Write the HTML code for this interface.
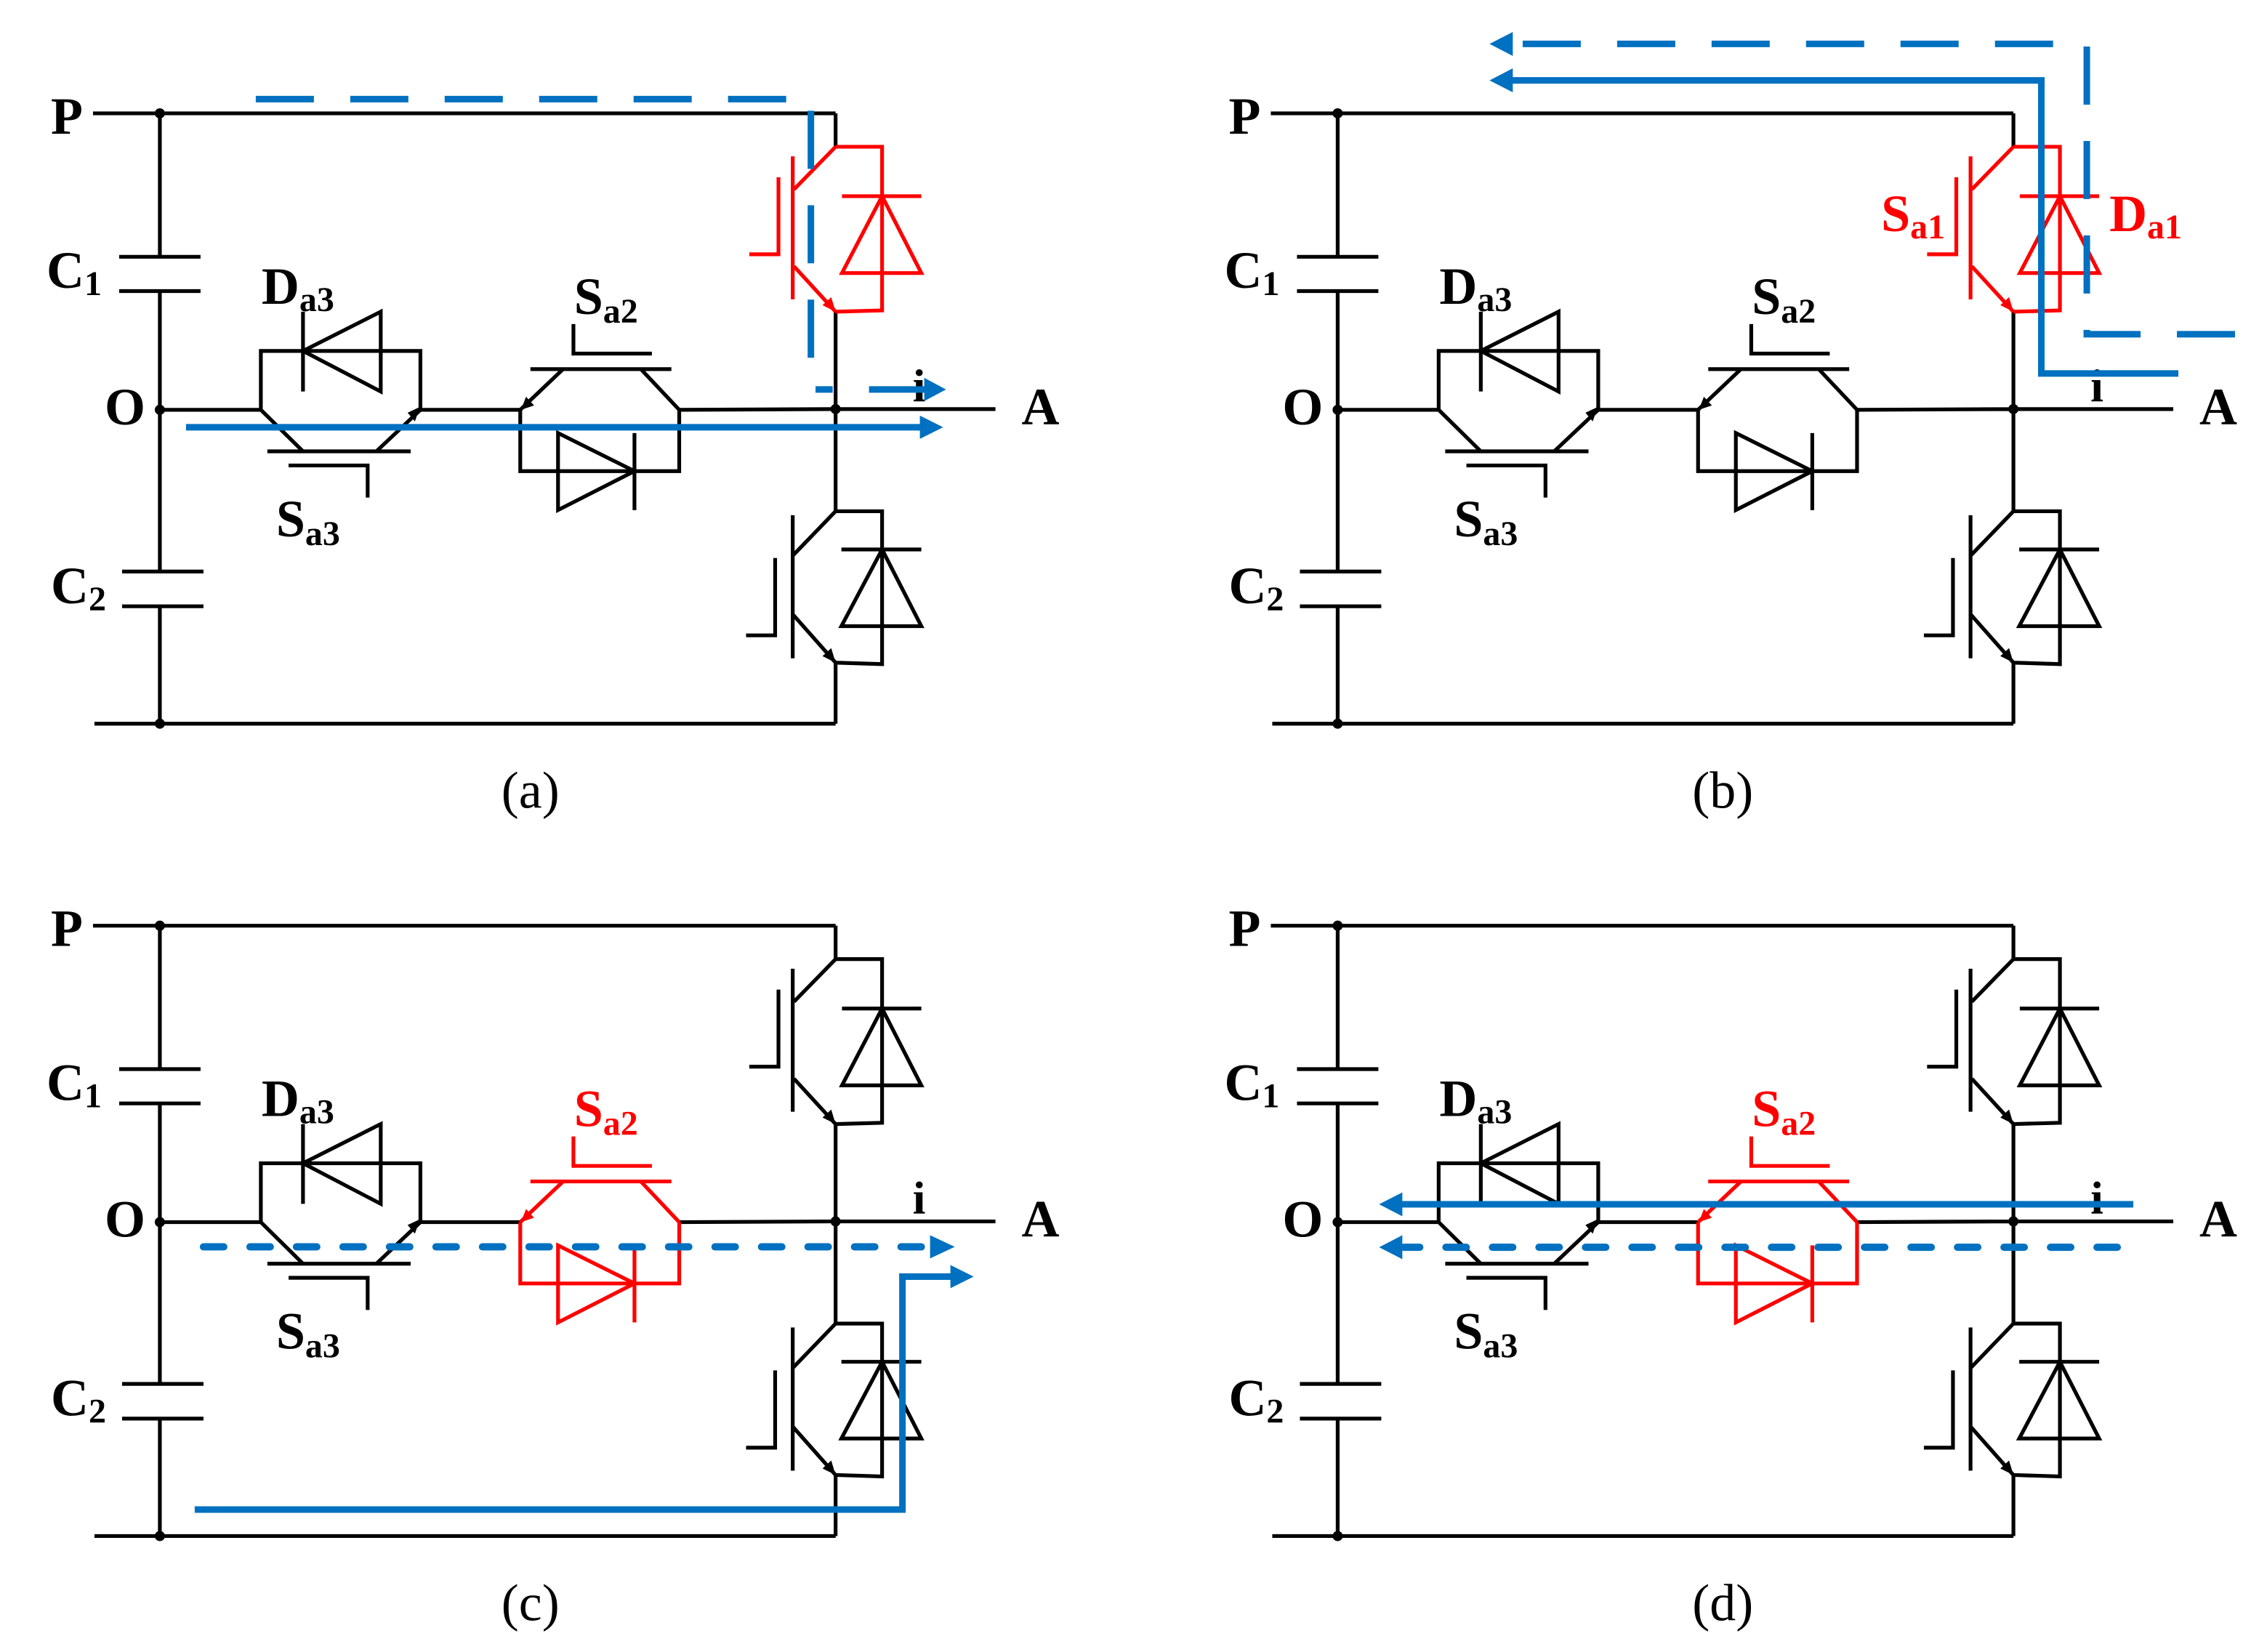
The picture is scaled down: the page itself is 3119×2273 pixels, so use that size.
<!DOCTYPE html>
<html><head><meta charset="utf-8"><style>
html,body{margin:0;padding:0;background:#fff;}
svg{display:block;}
text{font-family:"Liberation Serif",serif;font-weight:bold;}
</style></head><body>
<svg width="3119" height="2273" viewBox="0 0 1560 1136.8" preserveAspectRatio="none" xmlns="http://www.w3.org/2000/svg">
<defs>
<g id="frame" fill="none" stroke-width="2.6">
<path d="M64 78H575M110 78V176.7M110 200.3V393.3M110 417.2V498M82 176.7H138M82 200.3H138M84 393.3H140M84 417.2H140M65 498H575M110 282H179.5M289.3 282H358M467.4 282L575 281.5H685M575 78V101M575 214.5V351.8M575 456V498"/>
<circle cx="110" cy="78" r="2.2" fill="#000"/><circle cx="110" cy="282" r="2.2" fill="#000"/><circle cx="110" cy="498" r="2.2" fill="#000"/><circle cx="575" cy="281.5" r="2.2" fill="#000"/>
</g>
<g id="s3" stroke-width="2.6">
<path fill="none" d="M179.5 282V241.5H289.3V282M208.5 214.5V269.4M262 214.5V269.4L208.5 241.5ZM179.5 282L208.5 310.6M289.3 282L259 310.6M184 310.6H282.6M198.6 320.3H253V342.4"/>
<polygon stroke="none" points="289,280 280.5,284 285.5,290"/>
</g>
<g id="s2" stroke-width="2.6">
<path fill="none" d="M358 282L387.5 254M467.4 282L441 254M365 254H462M394.6 223V243.3H448.6M358 282V324.2H467.4V282M384 298V351L436.6 324.2ZM436.6 298V351"/>
<polygon stroke="none" points="358.5,282 362,273 367.5,279"/>
</g>
<g id="igT" stroke-width="2.6">
<path fill="none" d="M575 101L546.4 130.3M545.5 107.6V206M515.6 175H535.7V122M546.4 183.3L575 214.5M575 101H607V213.6L575 214.5M579.4 135H634M607 135L579.4 187.9H634Z"/>
<polygon stroke="none" points="575,214.5 566,210 572,204.5"/>
</g>
<g id="igB" stroke-width="2.6">
<path fill="none" d="M575 351.8L545.5 382.4M545.5 354.5V453M513.4 437.2H533.4V384M545.5 422.7L575 456M575 351.8H607V457L575 456M579 378.1H634M607 378.1L579 430.9H634Z"/>
<polygon stroke="none" points="575,456 566,451.5 572,446"/>
</g>
<g id="lbl" font-size="36">
<text x="35" y="92">P</text>
<text x="32" y="198">C<tspan font-size="24" dy="5">1</tspan></text>
<text x="35" y="415">C<tspan font-size="24" dy="5">2</tspan></text>
<text x="72" y="292">O</text>
<text x="180" y="209">D<tspan font-size="24" dy="5">a3</tspan></text>
<text x="190" y="369">S<tspan font-size="24" dy="6">a3</tspan></text>
<text x="628" y="276" font-size="32">i</text>
<text x="703" y="292">A</text>
</g>
</defs>

<!-- Panel a -->
<g>
<use href="#frame" stroke="#000"/>
<use href="#s3" stroke="#000" fill="#000"/>
<use href="#s2" stroke="#000" fill="#000"/>
<use href="#igT" stroke="#f00" fill="#f00"/>
<use href="#igB" stroke="#000" fill="#000"/>
<use href="#lbl" fill="#000"/>
<text x="395" y="216" font-size="36">S<tspan font-size="24" dy="6">a2</tspan></text>
<text x="365" y="556" font-size="36" font-weight="normal" text-anchor="middle" style="font-weight:normal">(a)</text>
</g>
<!-- Panel b -->
<g transform="translate(810.5,0)">
<use href="#frame" stroke="#000"/>
<use href="#s3" stroke="#000" fill="#000"/>
<use href="#s2" stroke="#000" fill="#000"/>
<use href="#igT" stroke="#f00" fill="#f00"/>
<use href="#igB" stroke="#000" fill="#000"/>
<use href="#lbl" fill="#000"/>
<text x="395" y="216" font-size="36">S<tspan font-size="24" dy="6">a2</tspan></text>
<text x="484" y="159" font-size="36" fill="#f00">S<tspan font-size="24" dy="5">a1</tspan></text>
<text x="641" y="159" font-size="36" fill="#f00">D<tspan font-size="24" dy="5">a1</tspan></text>
<text x="375" y="556" font-size="36" text-anchor="middle" style="font-weight:normal">(b)</text>
</g>
<!-- Panel c -->
<g transform="translate(0,559)">
<use href="#frame" stroke="#000"/>
<use href="#s3" stroke="#000" fill="#000"/>
<use href="#s2" stroke="#f00" fill="#f00"/>
<use href="#igT" stroke="#000" fill="#000"/>
<use href="#igB" stroke="#000" fill="#000"/>
<use href="#lbl" fill="#000"/>
<text x="395" y="216" font-size="36" fill="#f00">S<tspan font-size="24" dy="6">a2</tspan></text>
<text x="365" y="556" font-size="36" text-anchor="middle" style="font-weight:normal">(c)</text>
</g>
<!-- Panel d -->
<g transform="translate(810.5,559)">
<use href="#frame" stroke="#000"/>
<use href="#s3" stroke="#000" fill="#000"/>
<use href="#s2" stroke="#f00" fill="#f00"/>
<use href="#igT" stroke="#000" fill="#000"/>
<use href="#igB" stroke="#000" fill="#000"/>
<use href="#lbl" fill="#000"/>
<text x="395" y="216" font-size="36" fill="#f00">S<tspan font-size="24" dy="6">a2</tspan></text>
<text x="375" y="556" font-size="36" text-anchor="middle" style="font-weight:normal">(d)</text>
</g>

<!-- Blue current paths -->
<g stroke="#0070C0" fill="none" stroke-width="4.5">
<!-- a -->
<path d="M176 68.2H558V268H573" stroke-dasharray="40 25"/>
<path d="M598 268H638"/>
<path d="M128 294H636"/>
<!-- b -->
<path d="M1538 230H1436V30.2H1040" stroke-dasharray="40 25"/>
<path d="M1499 257H1404.7V55.3H1040"/>
<!-- c -->
<path d="M140 858H640" stroke-dasharray="14 18" stroke-linecap="round" stroke-width="5"/>
<path d="M134 1038.8H621V878.5H655"/>
<!-- d -->
<path d="M1468 828.7H963"/>
<path d="M1457 858.3H966" stroke-dasharray="14 18" stroke-linecap="round" stroke-width="5"/>
</g>
<g fill="#0070C0">
<polygon points="636,260 651,268 636,276"/>
<polygon points="633,286 649,294 633,302"/>
<polygon points="1041,22 1025,30.2 1041,38.5"/>
<polygon points="1041,47 1025,55.3 1041,63.5"/>
<polygon points="640,850 657,858 640,866"/>
<polygon points="654,870.5 670,878.5 654,886.5"/>
<polygon points="965,820.5 949,828.7 965,837"/>
<polygon points="965,850 949,858.3 965,866.5"/>
</g>
</svg>
</body></html>
